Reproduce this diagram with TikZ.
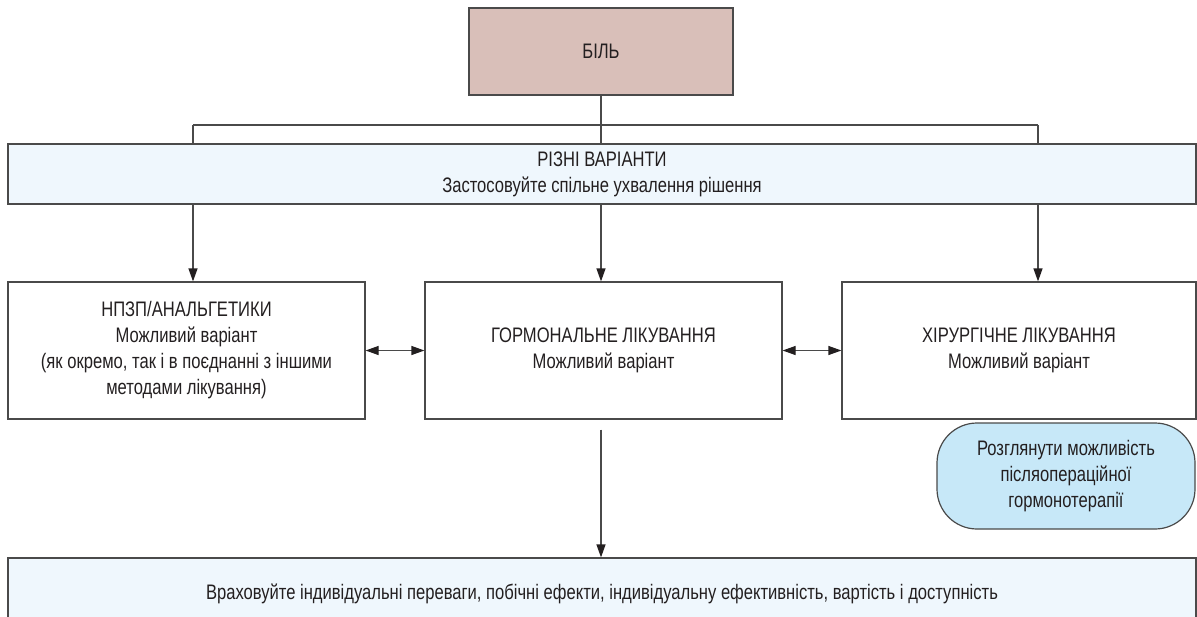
\documentclass[tikz,border=0pt]{standalone}
\usepackage{fontspec}
\setmainfont{Liberation Sans}[FakeStretch=0.79]
\usetikzlibrary{arrows.meta}
\definecolor{inkgray}{HTML}{231F20}
\definecolor{linegray}{HTML}{4A4A4A}
\definecolor{painfill}{HTML}{D9BFB9}
\definecolor{lightfill}{HTML}{EFF7FD}
\definecolor{bubblefill}{HTML}{C7E8F8}
\begin{document}
\begin{tikzpicture}[x=1pt,y=-1pt,
    font=\fontsize{21}{26}\selectfont, text=inkgray,
    box/.style={draw=linegray, line width=1.2pt, inner sep=0pt, align=center},
    widebox/.style={box, fill=lightfill, minimum width=1188pt},
    tip/.tip={Triangle[length=13pt,width=9pt,color=inkgray]},
    arr/.style={draw=linegray, line width=1.2pt, -tip},
    twoway/.style={draw=linegray, line width=1.2pt, tip-tip},
    link/.style={draw=linegray, line width=1.2pt}]
  \useasboundingbox (0,0) rectangle (1197,616);
  \clip (0,0) rectangle (1197,616);
  \node[box, fill=painfill, minimum width=264pt, minimum height=87pt] (pain) at (601,51.5) {БІЛЬ};
  \node[widebox, minimum height=60pt] (options) at (602,174)
    {РІЗНІ ВАРІАНТИ\\Застосовуйте спільне ухвалення рішення};
  \coordinate (fork) at (601,125);
  \coordinate (fork-l) at (193,125);
  \coordinate (fork-r) at (1038,125);
  % three treatment boxes
  \node[box, minimum width=357pt, minimum height=137pt] (nsaid) at (186.5,350.5)
    {НПЗП/АНАЛЬГЕТИКИ\\Можливий варіант\\(як окремо, так і в поєднанні з іншими\\методами лікування)};
  \node[box, minimum width=357pt, minimum height=137pt] (hormonal) at (603.5,350.5)
    {ГОРМОНАЛЬНЕ ЛІКУВАННЯ\\Можливий варіант};
  \node[box, minimum width=354pt, minimum height=137pt] (surgery) at (1019,350.5)
    {ХІРУРГІЧНЕ ЛІКУВАННЯ\\Можливий варіант};
  \node[box, fill=bubblefill, rounded corners=40pt, minimum width=258pt, minimum height=106pt] (postop) at (1066,476)
    {Розглянути можливість\\післяопераційної\\гормонотерапії};
  \node[widebox, minimum height=72pt] (consider) at (602,594)
    {Враховуйте індивідуальні переваги, побічні ефекти, індивідуальну ефективність, вартість і доступність};
  % connectors
  \draw[link] (pain.south) -- (fork);
  \draw[link] (fork-l) -- (fork-r);
  \draw[link] (fork) -- (fork |- options.north);
  \draw[link] (fork-l) -- (fork-l |- options.north);
  \draw[link] (fork-r) -- (fork-r |- options.north);
  \draw[arr] (options.south -| fork-l) -- (nsaid.north -| fork-l);
  \draw[arr] (options.south -| fork) -- (hormonal.north -| fork);
  \draw[arr] (options.south -| fork-r) -- (surgery.north -| fork-r);
  \draw[twoway] (nsaid.east) -- (hormonal.west);
  \draw[twoway] (hormonal.east) -- (surgery.west);
  \draw[arr, shorten <=10pt] (hormonal.south -| fork) -- (consider.north -| fork);
\end{tikzpicture}
\end{document}
